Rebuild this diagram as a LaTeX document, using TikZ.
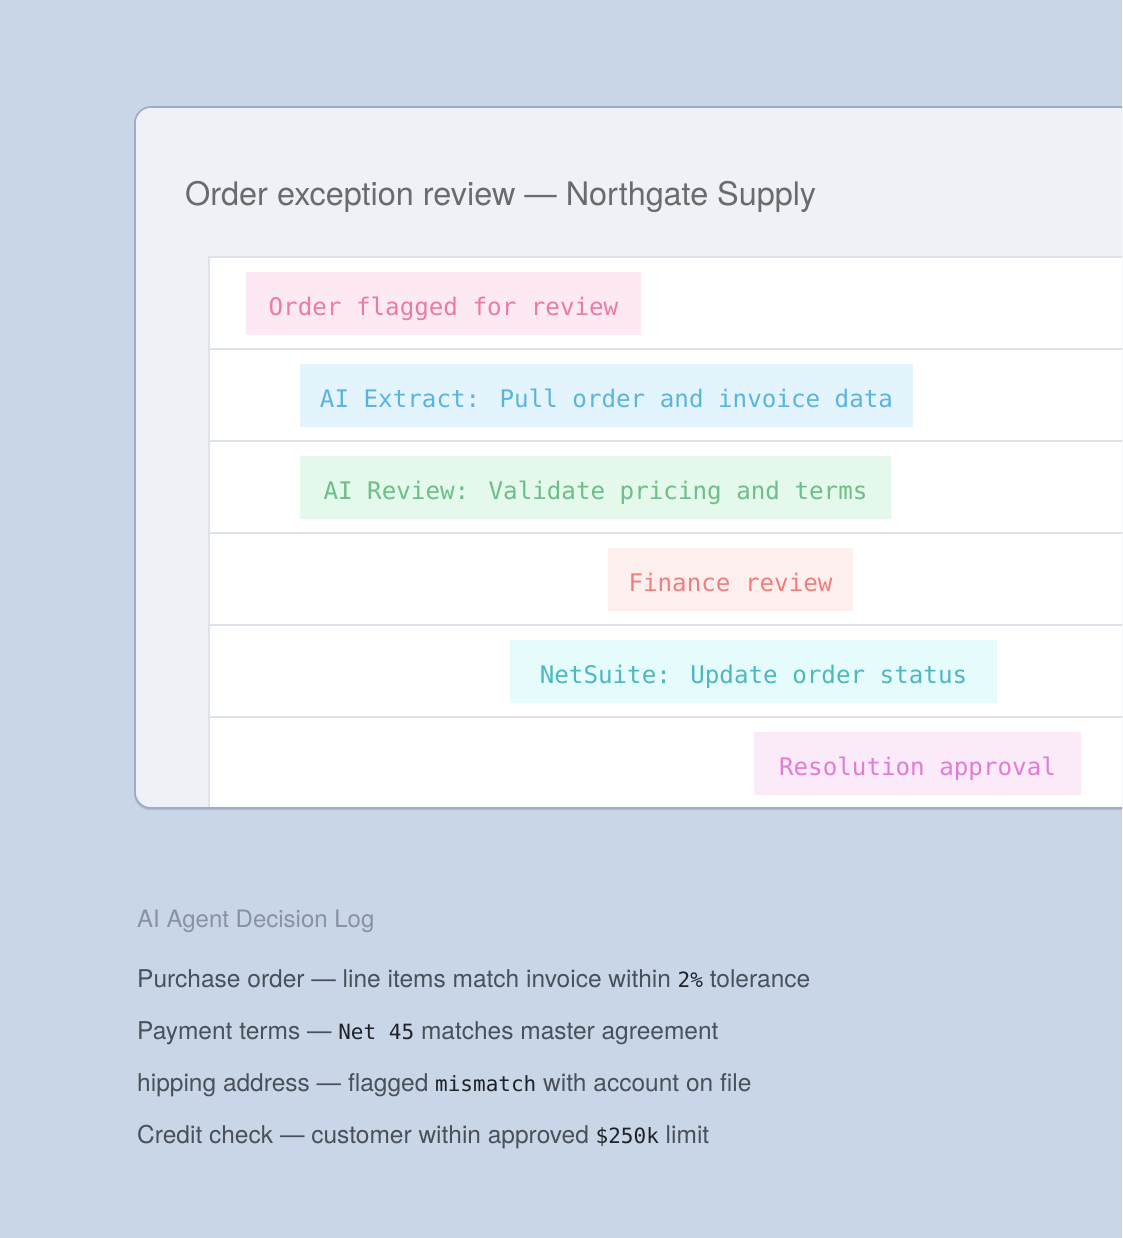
\documentclass[tikz,border=0pt]{standalone}
\usepackage{fontspec}
\setmainfont{TeX Gyre Heros}
\newfontfamily\tagmono{DejaVu Sans Mono}
\definecolor{bgc}{HTML}{C9D6E7}
\definecolor{cardfill}{HTML}{EEF2F7}
\definecolor{cardline}{HTML}{9AACC6}
\definecolor{rowline}{HTML}{DFE4EC}
\definecolor{titlec}{HTML}{6B6B6B}
\definecolor{headc}{HTML}{8892A3}
\definecolor{logc}{HTML}{4A5059}
\definecolor{monoc}{HTML}{1E2227}
\definecolor{pinkf}{HTML}{FDE9F4}\definecolor{pinkt}{HTML}{EA7CA2}
\definecolor{bluef}{HTML}{E3F4FD}\definecolor{bluet}{HTML}{5BB4DF}
\definecolor{greenf}{HTML}{E4F8EC}\definecolor{greent}{HTML}{6EBE87}
\definecolor{redf}{HTML}{FEEFEF}\definecolor{redt}{HTML}{F07E7E}
\definecolor{cyanf}{HTML}{E6FBFC}\definecolor{cyant}{HTML}{4DB8BD}
\definecolor{magf}{HTML}{FBEAF8}\definecolor{magt}{HTML}{E27CD4}
\tikzset{
  tagbox/.style={rectangle, inner sep=0pt, minimum height=63pt,
    text height=23pt, text depth=0pt, font=\tagmono\fontsize{24.2}{28}\selectfont},
  logline/.style={anchor=base west, inner sep=0pt, text=logc, font=\fontsize{24.5}{28}\selectfont},
  rowsep/.style={draw=rowline, line width=1.5pt}
}
\newcommand{\lm}[1]{{\color{monoc}\tagmono\fontsize{21}{24}\selectfont #1}}
\begin{document}
\begin{tikzpicture}[x=1pt,y=-1pt]
\useasboundingbox (0,0) rectangle (1122,1238);
\clip (0,0) rectangle (1122,1238);
\fill[bgc] (0,0) rectangle (1122,1238);
% card shadow
\fill[cardline!60!bgc, rounded corners=16pt] (134,107) rectangle (1160,810);
% card
\fill[cardfill, rounded corners=16pt] (135,107) rectangle (1160,808);
% white panel
\fill[white] (209,257) rectangle (1130,808);
\draw[rowline, line width=1.2pt] (209,808) -- (209,257) -- (1130,257);
\foreach \yy in {349,441,533,625,717} \draw[rowsep] (209,\yy) -- (1130,\yy);
% card border
\draw[cardline, line width=1.6pt, rounded corners=16pt] (135,107) rectangle (1160,808);
% title
\node[anchor=base west, inner sep=0pt, text=titlec, font=\fontsize{32.4}{38}\selectfont] (title) at (185,206) {Order exception review — Northgate Supply};
% tags
\node[tagbox, fill=pinkf, text=pinkt, minimum width=395pt] (t1) at (443.5,303.5) {Order flagged for review};
\node[tagbox, fill=bluef, text=bluet, minimum width=613pt] (t2) at (606.5,395.5) {AI Extract: Pull order and invoice data};
\node[tagbox, fill=greenf, text=greent, minimum width=591pt] (t3) at (595.5,487.5) {AI Review: Validate pricing and terms};
\node[tagbox, fill=redf, text=redt, minimum width=245pt] (t4) at (730.5,579.5) {Finance review};
\node[tagbox, fill=cyanf, text=cyant, minimum width=487pt] (t5) at (753.5,671.5) {NetSuite: Update order status};
\node[tagbox, fill=magf, text=magt, minimum width=327pt] (t6) at (917.5,763.5) {Resolution approval};
% decision log
\node[anchor=base west, inner sep=0pt, text=headc, font=\fontsize{24}{28}\selectfont] (loghead) at (137,927) {AI Agent Decision Log};
\node[logline] (l1) at (137,987) {Purchase order — line items match invoice within \lm{2\%} tolerance};
\node[logline] (l2) at (137,1039) {Payment terms — \lm{Net 45} matches master agreement};
\node[logline] (l3) at (137,1091) {hipping address — flagged \lm{mismatch} with account on file};
\node[logline] (l4) at (137,1143) {Credit check — customer within approved \lm{\$250k} limit};
\end{tikzpicture}
\end{document}
